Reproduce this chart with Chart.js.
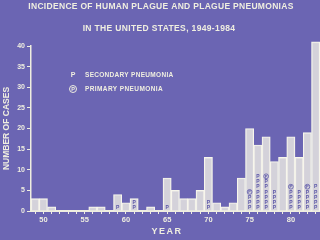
<!DOCTYPE html>
<html>
<head>
<meta charset="utf-8">
<script src="https://cdn.jsdelivr.net/npm/chart.js@4.4.1/dist/chart.umd.min.js"></script>
<style>
  html, body { margin: 0; padding: 0; background: #6b65b3; overflow: hidden; }
  #wrap { width: 320px; height: 240px; overflow: hidden; position: relative; }
  #chart { position: absolute; left: 0; top: 0; }
</style>
</head>
<body>
<div id="wrap"><canvas id="chart" width="330" height="240"></canvas></div>
<script>
// Plague cases per year (1984 is cut off by the photo)
const YEARS = ['1949', '1950', '1951', '1952', '1953', '1954', '1955', '1956', '1957', '1958',
  '1959', '1960', '1961', '1962', '1963', '1964', '1965', '1966', '1967', '1968',
  '1969', '1970', '1971', '1972', '1973', '1974', '1975', '1976', '1977', '1978',
  '1979', '1980', '1981', '1982', '1983', '1984'];
const CASES = [3, 3, 1, 0, 0, 0, 0, 1, 1, 0,
  4, 2, 3, 0, 1, 0, 8, 5, 3, 3,
  5, 13, 2, 1, 2, 8, 20, 16, 18, 12,
  13, 18, 13, 19, 41, null];
// stacked "P" marks inside the bars
const SECONDARY = [0, 0, 0, 0, 0, 0, 0, 0, 0, 0,
  1, 0, 2, 0, 0, 0, 1, 0, 0, 0,
  0, 2, 0, 0, 0, 0, 3, 7, 6, 4,
  0, 4, 4, 4, 5, 0];
const PRIMARY = [0, 0, 0, 0, 0, 0, 0, 0, 0, 0,
  0, 0, 0, 0, 0, 0, 0, 0, 0, 0,
  0, 0, 0, 0, 0, 0, 1, 0, 1, 0,
  0, 1, 0, 1, 0, 0];
const Y_TICK_STEP = 5;

const CREAM = '#efeee0';
const BAR_FILL = 'rgba(216,214,220,0.96)';
const BAR_EDGE = '#f7f6ec';
const MARK = '#5d58a8';
const FONT = '"Liberation Sans", Arial, sans-serif';

function drawP(ctx, cx, cy, color, size) {
  ctx.fillStyle = color;
  ctx.font = `bold ${size}px ${FONT}`;
  ctx.textAlign = 'center';
  ctx.textBaseline = 'middle';
  ctx.fillText('P', cx, cy + 0.3);
}

function drawCircledP(ctx, cx, cy, color, r, size) {
  ctx.strokeStyle = color;
  ctx.lineWidth = r > 3 ? 1 : 0.8;
  ctx.beginPath();
  ctx.arc(cx, cy, r, 0, Math.PI * 2);
  ctx.stroke();
  drawP(ctx, cx, cy, color, size);
}

const pneumoniaMarks = {
  id: 'pneumoniaMarks',
  afterDatasetsDraw(chart) {
    const { ctx, scales: { x, y } } = chart;
    const base = y.getPixelForValue(0);
    ctx.save();
    YEARS.forEach((yr, i) => {
      const cx = x.getPixelForValue(i);
      let n = 0;
      for (let k = 0; k < SECONDARY[i]; k++) drawP(ctx, cx, base - 3.5 - 5.2 * n++, MARK, 5);
      for (let k = 0; k < PRIMARY[i]; k++) drawCircledP(ctx, cx, base - 3.5 - 5.2 * n++, MARK, 2.4, 4);
    });
    ctx.restore();
  }
};

function spacedText(ctx, text, x, y, font, spacing, align) {
  ctx.font = font;
  if ('letterSpacing' in ctx) ctx.letterSpacing = spacing + 'px';
  ctx.textAlign = align || 'center';
  ctx.textBaseline = 'middle';
  ctx.fillText(text, x, y);
  if ('letterSpacing' in ctx) ctx.letterSpacing = '0px';
}

// slide lettering: title, key, x axis caption
const slideText = {
  id: 'slideText',
  afterDraw(chart) {
    const ctx = chart.ctx;
    ctx.save();
    ctx.fillStyle = CREAM;
    spacedText(ctx, 'INCIDENCE OF HUMAN PLAGUE AND PLAGUE PNEUMONIAS', 161, 7, `bold 8.5px ${FONT}`, 0.3);
    spacedText(ctx, 'IN THE UNITED STATES, 1949-1984', 159, 29, `bold 8.5px ${FONT}`, 0.35);

    drawP(ctx, 73, 75, CREAM, 7);
    ctx.fillStyle = CREAM;
    spacedText(ctx, 'SECONDARY PNEUMONIA', 85, 75, `bold 6.5px ${FONT}`, 0.3, 'left');
    drawCircledP(ctx, 73, 89, CREAM, 3.5, 5.5);
    ctx.fillStyle = CREAM;
    spacedText(ctx, 'PRIMARY PNEUMONIA', 85, 89, `bold 6.5px ${FONT}`, 0.4, 'left');

    spacedText(ctx, 'YEAR', 167, 232, `bold 9px ${FONT}`, 1.5);
    ctx.restore();
  }
};

new Chart(document.getElementById('chart'), {
  type: 'bar',
  data: {
    labels: YEARS,
    datasets: [{
      label: 'Cases',
      data: CASES,
      backgroundColor: BAR_FILL,
      borderColor: BAR_EDGE,
      borderWidth: 1.2,
      barPercentage: 1,
      categoryPercentage: 1,
      clip: false
    }]
  },
  options: {
    responsive: false,
    animation: false,
    layout: { padding: { top: 46, left: 0, right: 2, bottom: 0 } },
    plugins: {
      legend: { display: false },
      tooltip: { enabled: false }
    },
    scales: {
      x: {
        offset: true,
        ticks: {
          autoSkip: false,
          maxRotation: 0,
          color: CREAM,
          font: { family: FONT, size: 7.5, weight: 'bold' },
          padding: 1,
          callback: (v, i) => (Number(YEARS[i]) % 5 === 0 ? YEARS[i].slice(2) : '')
        },
        grid: { offset: false, drawOnChartArea: false, drawTicks: true, tickLength: 3, color: CREAM },
        border: { color: CREAM, width: 2 },
        afterFit: (s) => { s.height = 29; }
      },
      y: {
        min: 0,
        max: 40,
        ticks: {
          stepSize: Y_TICK_STEP,
          color: CREAM,
          font: { family: FONT, size: 7, weight: 'bold' },
          padding: 2
        },
        grid: { drawOnChartArea: false, drawTicks: true, tickLength: 4, color: CREAM },
        border: { color: CREAM, width: 1.5 },
        title: {
          display: true,
          text: 'NUMBER OF CASES',
          color: CREAM,
          font: { family: FONT, size: 8.5, weight: 'bold' },
          padding: { top: 2, bottom: 0 }
        },
        afterFit: (s) => { s.width = 31; }
      }
    }
  },
  plugins: [pneumoniaMarks, slideText]
});
</script>
</body>
</html>
